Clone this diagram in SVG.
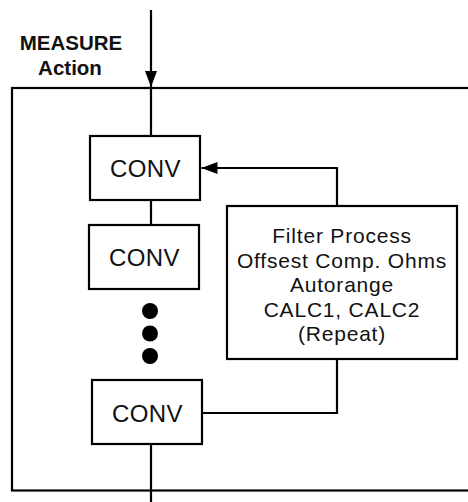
<svg xmlns="http://www.w3.org/2000/svg" width="468" height="502" viewBox="0 0 468 502">
<style>
.box{fill:#fff;stroke:#000;stroke-width:2.2}
.ln{fill:none;stroke:#000;stroke-width:2.2}
.t{font-family:"Liberation Sans",Arial,sans-serif;fill:#111;text-anchor:middle}
.conv{font-size:24px;letter-spacing:0.4px}
.fp{font-size:21px;letter-spacing:0.8px}
.lbl{font-size:20.5px;font-weight:bold}
</style>
<defs>
<marker id="ah" viewBox="0 0 16 12" refX="16" refY="6" markerWidth="16" markerHeight="12" markerUnits="userSpaceOnUse" orient="auto">
<path d="M0,0 L16,6 L0,12 Z" fill="#000"/>
</marker>
</defs>
<rect id="frame" class="ln" x="12" y="88" width="470" height="402.5"/>
<g id="label">
<text class="t lbl" x="71" y="50">MEASURE</text>
<text class="t lbl" x="70" y="75">Action</text>
</g>
<g id="connectors">
<line class="ln" x1="151" y1="10" x2="151" y2="87" marker-end="url(#ah)"/>
<line class="ln" x1="151" y1="88" x2="151" y2="136"/>
<line class="ln" x1="151" y1="200" x2="151" y2="225"/>
<line class="ln" x1="151" y1="444" x2="151" y2="502"/>
<polyline class="ln" points="202,413 337,413 337,359"/>
<polyline class="ln" points="337,206 337,168 201.5,168" marker-end="url(#ah)"/>
</g>
<g id="conv1">
<rect class="box" x="90" y="136" width="110" height="64"/>
<text class="t conv" x="145.5" y="176.5">CONV</text>
</g>
<g id="conv2">
<rect class="box" x="89" y="225" width="110" height="64"/>
<text class="t conv" x="144.5" y="265.5">CONV</text>
</g>
<g id="dots">
<circle cx="150" cy="311" r="8"/>
<circle cx="150" cy="333.5" r="8"/>
<circle cx="150" cy="356" r="8"/>
</g>
<g id="conv3">
<rect class="box" x="92" y="380" width="110" height="64"/>
<text class="t conv" x="147.5" y="421.5">CONV</text>
</g>
<g id="filter">
<rect class="box" x="227" y="206" width="230" height="153"/>
<text class="t fp" x="342" y="243">Filter Process</text>
<text class="t fp" x="342" y="267.5">Offsest Comp. Ohms</text>
<text class="t fp" x="342" y="292">Autorange</text>
<text class="t fp" x="342" y="316.5">CALC1, CALC2</text>
<text class="t fp" x="342" y="340.5">(Repeat)</text>
</g>
</svg>
